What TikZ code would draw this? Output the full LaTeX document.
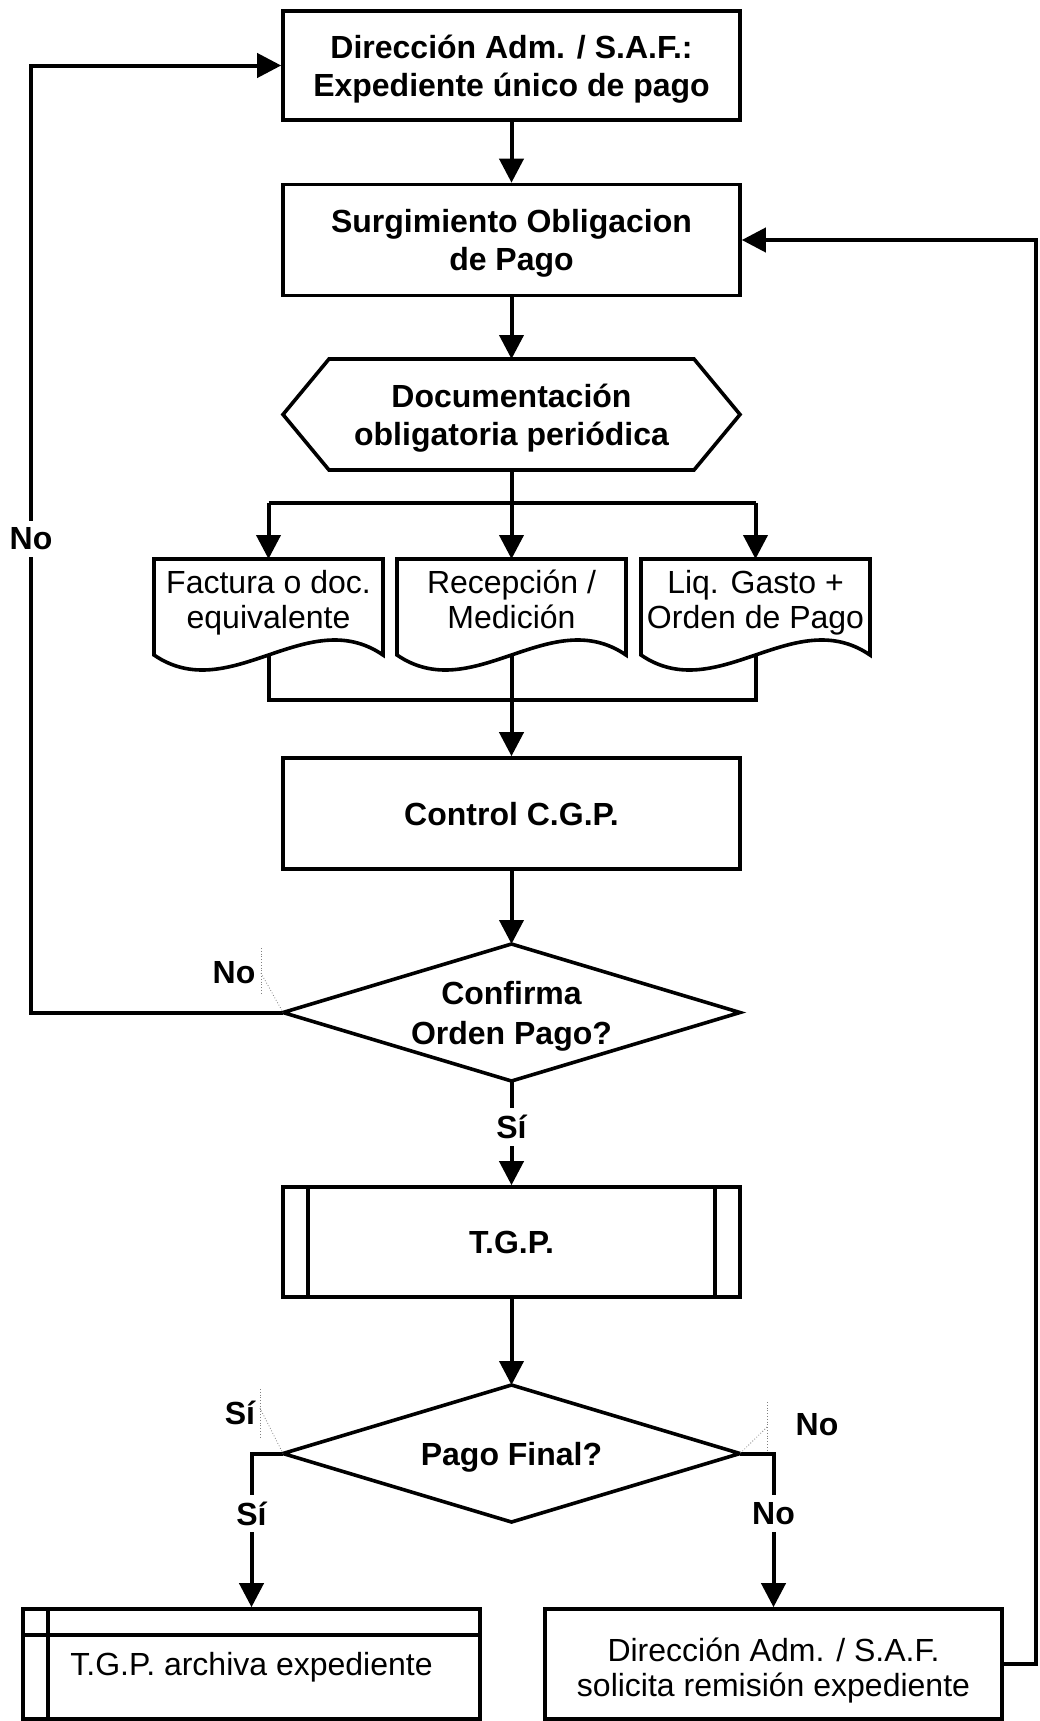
\documentclass[tikz,border=0pt]{standalone}
\usepackage{fontspec}
\setmainfont{Liberation Sans}
\usetikzlibrary{arrows.meta,calc}
\newcommand\myBold{\fontsize{32}{38}\selectfont\bfseries}
\newcommand\myReg{\fontsize{32}{35}\selectfont}
\tikzset{
  arr/.style={line width=4pt, -{Triangle[length=24pt,width=24pt]}},
  ln/.style={line width=4pt},
  shl/.style={line width=3.6pt},
  proc/.style={draw, line width=3.6pt, minimum width=457pt, inner sep=0pt, align=center, font=\myBold, text height=23pt, text depth=0pt},
  twob/.style={text height=61pt, text depth=0pt},
  shp/.style={minimum width=457pt, inner sep=0pt, outer sep=0pt, align=center, font=\myBold, text height=23pt, text depth=0pt},
  docnode/.style={minimum width=229pt, minimum height=96pt, inner sep=0pt, outer sep=0pt, align=center, font=\myReg, text height=58pt, text depth=15pt},
  regbox/.style={draw, line width=3.6pt, minimum width=457pt, minimum height=110pt, inner sep=0pt, align=center, font=\myReg, text height=23pt, text depth=0pt},
  lbl/.style={font=\myBold, fill=white, inner sep=7pt},
  plainlbl/.style={font=\myBold, inner sep=0pt},
  lead/.style={gray, dotted, line width=0.8pt}
}
\begin{document}
\begin{tikzpicture}[x=1pt,y=-1pt]
\useasboundingbox (0,0) rectangle (1039,1721);
\fill[white] (0,0) rectangle (1039,1721);

% main column
\node[proc, twob, minimum height=109pt] (box1) at (511.5,65.5) {Dirección Adm. / S.A.F.:\\Expediente único de pago};
\node[proc, twob, minimum height=111pt] (box2) at (511.5,240) {Surgimiento Obligacion\\de Pago};
\node[shp, twob, minimum height=111pt] (hex) at (511.5,414.5) {Documentación\\obligatoria periódica};
\draw[shl] (hex.west) -- ([xshift=46pt]hex.north west) -- ([xshift=-46pt]hex.north east) -- (hex.east) -- ([xshift=-46pt]hex.south east) -- ([xshift=46pt]hex.south west) -- cycle;

% documents
\node[docnode] (doc1) at (268.5,607) {Factura o doc.\\equivalente};
\node[docnode] (doc2) at (511.5,607) {Recepción /\\Medición};
\node[docnode] (doc3) at (755.5,607) {Liq. Gasto +\\Orden de Pago};
\foreach \d in {doc1,doc2,doc3}{
  \draw[shl] (\d.north) -- (\d.north east) -- (\d.south east)
    .. controls ([shift={(-76,-52)}]\d.south east) and ([shift={(76,52)}]\d.south west) .. (\d.south west)
    -- (\d.north west) -- cycle;
}

\node[proc, minimum height=111pt] (ctrl) at (511.5,813.5) {Control C.G.P.};
\node[shp, text height=63pt, minimum height=137pt] (dia1) at (511.5,1012.5) {Confirma\\[2pt]Orden Pago?};
\draw[shl] (dia1.west) -- (dia1.north) -- (dia1.east) -- (dia1.south) -- cycle;

\node[proc, minimum height=110pt] (tgp) at (511.5,1242) {T.G.P.};
\draw[shl] ([xshift=27pt]tgp.north west) -- ([xshift=27pt]tgp.south west);
\draw[shl] ([xshift=-27pt]tgp.north east) -- ([xshift=-27pt]tgp.south east);

\node[shp, minimum height=137pt] (dia2) at (511.5,1453.5) {Pago Final?};
\draw[shl] (dia2.west) -- (dia2.north) -- (dia2.east) -- (dia2.south) -- cycle;

\node[regbox] (lbox) at (251.5,1664) {T.G.P. archiva expediente};
\draw[shl] ([xshift=27pt]lbox.north west) -- ([xshift=27pt]lbox.south west);
\draw[shl] ([yshift=-28pt]lbox.north west) -- ([yshift=-28pt]lbox.north east);

\node[regbox, text height=65pt] (rbox) at (773.5,1664) {Dirección Adm. / S.A.F.\\solicita remisión expediente};

% helper coordinates
\coordinate (L) at (31,0);
\coordinate (R) at (1036,0);
\coordinate (b) at (511.5,503);
\coordinate (m) at (511.5,700);

% connectors
\draw[arr] (box1.south) -- (box2.north);
\draw[arr] (box2.south) -- (hex.north);
\draw[ln] (doc1.north |- b) -- (doc3.north |- b);
\draw[arr] (hex.south) -- (doc2.north);
\draw[arr] (doc1.north |- b) -- (doc1.north);
\draw[arr] (doc3.north |- b) -- (doc3.north);
\draw[ln] (doc1.south) |- (doc3.south |- m) -- (doc3.south);
\draw[arr] (doc2.south) -- (ctrl.north);
\draw[arr] (ctrl.south) -- (dia1.north);
\draw[arr] (dia1.south) -- node[lbl, pos=0.44] {Sí} (tgp.north);
\draw[arr] (dia1.west) -- (dia1.west -| L) |- node[lbl, pos=0.25] {No} (box1.west);
\draw[arr] (tgp.south) -- (dia2.north);
\draw[arr] (dia2.west) -- (dia2.west -| lbox.north) -- node[lbl, pos=0.39] {Sí} (lbox.north);
\draw[arr] (dia2.east) -- (dia2.east -| rbox.north) -- node[lbl, pos=0.39] {No} (rbox.north);
\draw[arr] (rbox.east) -- (rbox.east -| R) |- (box2.east);

% branch labels and leaders
\node[plainlbl] (n1) at (234,973) {No};
\draw[lead] (261,948) -- (261,995);
\draw[lead] (261,973) -- (dia1.west);
\node[plainlbl] (s2) at (240,1413) {Sí};
\draw[lead] (260,1389) -- (260,1437);
\draw[lead] (260,1408) -- (dia2.west);
\node[plainlbl] (n2) at (817,1425) {No};
\draw[lead] (767,1402) -- (767,1450);
\draw[lead] (767,1427) -- (dia2.east);
\end{tikzpicture}
\end{document}
